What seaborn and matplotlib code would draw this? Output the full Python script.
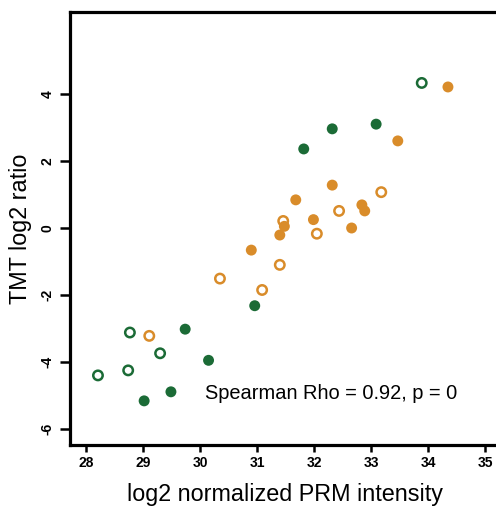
import matplotlib
matplotlib.use("Agg")
import matplotlib.pyplot as plt
import seaborn as sns
import pandas as pd

# Data
prm_intensity = [33.89, 34.35, 33.09, 32.32, 31.82, 33.47, 32.32, 33.18, 31.68, 32.44,
                 32.84, 32.89, 31.46, 31.48, 31.99, 31.40, 32.05, 32.66, 30.90, 31.40,
                 31.09, 30.96, 30.35, 29.74, 29.11, 28.77, 29.30, 30.15, 28.74, 28.21,
                 29.49, 29.02]
tmt_ratio = [4.33, 4.21, 3.10, 2.96, 2.36, 2.60, 1.28, 1.07, 0.84, 0.51,
             0.69, 0.51, 0.21, 0.05, 0.25, -0.21, -0.17, 0.00, -0.66, -1.10,
             -1.85, -2.32, -1.51, -3.02, -3.22, -3.12, -3.74, -3.95, -4.25, -4.40,
             -4.89, -5.16]
group = ["green", "orange", "green", "green", "green", "orange", "orange", "orange", "orange", "orange",
         "orange", "orange", "orange", "orange", "orange", "orange", "orange", "orange", "orange", "orange",
         "orange", "green", "orange", "green", "orange", "green", "green", "green", "green", "green",
         "green", "green"]
filled = [False, True, True, True, True, True, True, False, True, False,
          True, True, False, True, True, True, False, True, True, False,
          False, True, False, True, False, False, False, True, False, False,
          True, True]
x_ticks = [28, 29, 30, 31, 32, 33, 34, 35]
y_ticks = [-6, -4, -2, 0, 2, 4]
annotation = "Spearman Rho = 0.92, p = 0"

palette = {"green": "#1b6b36", "orange": "#d98c2a"}

df = pd.DataFrame({"x": prm_intensity, "y": tmt_ratio, "group": group, "filled": filled})

sns.set_style("white")
plt.rcParams["font.family"] = ["Liberation Sans", "DejaVu Sans"]
plt.rcParams["text.color"] = "black"
plt.rcParams["axes.labelcolor"] = "black"
plt.rcParams["xtick.color"] = "black"
plt.rcParams["ytick.color"] = "black"

W, H = 496, 507
fig = plt.figure(figsize=(W / 100, H / 100), dpi=100)
ax = fig.add_axes([70 / W, (H - 445) / H, (500 - 70) / W, (445 - 12) / H])

# filled points
dff = df[df["filled"]]
sns.scatterplot(data=dff, x="x", y="y", hue="group", palette=palette, s=62,
                linewidth=0, legend=False, ax=ax)
# open points
dfo = df[~df["filled"]].reset_index(drop=True)
sns.scatterplot(data=dfo, x="x", y="y", hue="group", palette=palette, s=46,
                linewidth=1.8, legend=False, ax=ax)
coll = ax.collections[-1]
cols = [palette[g] for g in dfo["group"]]
coll.set_facecolor("none")
coll.set_edgecolor(cols)

x0 = 28 - 16 / 57
x1 = 28 + (500 - 86) / 57
ax.set_xlim(x0, x1)
ax.set_ylim(-(445 - 228) / 33.5, (228 - 12) / 33.5)

ax.set_xticks(x_ticks)
ax.set_yticks(y_ticks)
ax.set_xticklabels([str(t) for t in x_ticks], fontsize=10, fontweight="bold")
ax.set_yticklabels([str(t) for t in y_ticks], fontsize=10, fontweight="bold",
                   rotation=90, va="center")
ax.tick_params(axis="x", bottom=True, direction="out", length=5, width=1.8, pad=3,
               color="black", labelcolor="black")
ax.tick_params(axis="y", left=True, direction="out", length=7, width=1.8, pad=4,
               color="black", labelcolor="black")

for side in ["left", "top", "bottom", "right"]:
    ax.spines[side].set_linewidth(2.3)
    ax.spines[side].set_color("black")

ax.set_xlabel("log2 normalized PRM intensity", fontsize=16.8, labelpad=9)
ax.set_ylabel("TMT log2 ratio", fontsize=16.8, labelpad=6)

ax.text(30.08, -4.95, annotation, fontsize=14.4, ha="left", va="center")

fig.savefig("out.png", dpi=100)
